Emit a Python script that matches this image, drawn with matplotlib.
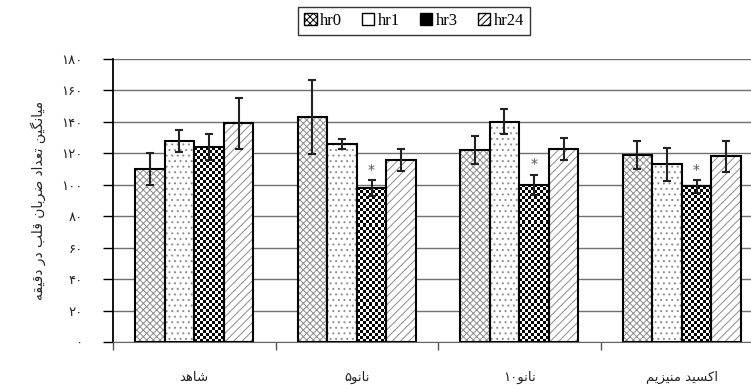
import numpy as np
import matplotlib
matplotlib.use('Agg')
from matplotlib import pyplot as plt
from matplotlib.patches import Patch
from matplotlib.transforms import ScaledTranslation

# Persian labels written in visual order with presentation forms
groups = ['\uFEAA\uFEEB\uFE8E\uFEB7',                       # shahed
          '\u06F5\uFEEE\uFEE7\uFE8E\uFEE7',                 # nano5
          '\u06F1\u06F0\uFEEE\uFEE7\uFE8E\uFEE7',           # nano10
          '\uFEE2\uFEF3\uFEB0\uFEF4\uFEE8\uFEE3 \uFEAA\uFEF4\uFEB4\uFB90\uFE8D']  # oxide
ylabel = ('\uFEEA\uFED8\uFEF4\uFED7\uFEA9 \uFEAD\uFEA9 \uFE90\uFEE0\uFED7 '
          '\uFEE5\uFE8E\uFE91\uFEAE\uFEBF \uFEA9\uFE8D\uFEAA\uFECC\uFE97 '
          '\uFEE6\uFEF4\uFB95\uFEE7\uFE8E\uFEF4\uFEE3')
series = ['hr0', 'hr1', 'hr3', 'hr24']
means = {
    'hr0':  [110, 143, 122, 119],
    'hr1':  [128, 126, 140, 113],
    'hr3':  [124, 98, 100, 99],
    'hr24': [139, 116, 123, 118],
}
errs = {
    'hr0':  [10, 23.5, 9, 9],
    'hr1':  [7, 3, 8, 10.5],
    'hr3':  [8.5, 5, 6.5, 4],
    'hr24': [16, 7, 7, 10],
}
star_series = 'hr3'
star_groups = [1, 2, 3]
yticks = [0, 20, 40, 60, 80, 100, 120, 140, 160, 180]
ytick_labels = ['\u06F0', '\u06F2\u06F0', '\u06F4\u06F0', '\u06F6\u06F0', '\u06F8\u06F0',
                '\u06F1\u06F0\u06F0', '\u06F1\u06F2\u06F0', '\u06F1\u06F4\u06F0',
                '\u06F1\u06F6\u06F0', '\u06F1\u06F8\u06F0']

hatches = {'hr0': 'xxxxx', 'hr1': '...', 'hr3': None, 'hr24': '////'}
hcolors = {'hr0': '#8c8c8c', 'hr1': '#8c8c8c', 'hr3': 'black', 'hr24': '#8c8c8c'}

plt.rcParams['hatch.linewidth'] = 0.7
fig = plt.figure(figsize=(7.51, 3.88), dpi=100)
ax = fig.add_axes([113/751, 1-342/388, 650/751, (342-59)/388])
ax.set_xlim(-0.5, 3.5)
ax.set_ylim(0, 180)

x = np.arange(len(groups))
w = 1/5.5
for i, s in enumerate(series):
    pos = x + (i - 1.5) * w
    bars = ax.bar(pos, means[s], w, color='white', edgecolor=hcolors[s],
                  hatch=hatches[s], linewidth=0, zorder=2)
    if s == 'hr3':
        # checkerboard fill drawn as an image inside each bar
        for b in bars:
            x0, h = b.get_x(), b.get_height()
            p = ax.transData.transform([(x0, 0), (x0 + w, h)])
            nc = max(1, int(round((p[1][0] - p[0][0]) / 3)))
            nr = max(1, int(round((p[1][1] - p[0][1]) / 3)))
            checker = np.indices((nr, nc)).sum(0) % 2
            ax.imshow(checker, extent=(x0, x0 + w, 0, h), cmap='gray', vmin=0, vmax=1,
                      interpolation='nearest', aspect='auto', origin='lower', zorder=2.5)
    ax.bar(pos, means[s], w, fill=False, edgecolor='black', linewidth=1.5, zorder=3)
    ax.errorbar(pos, means[s], yerr=errs[s], fmt='none', ecolor='#222222',
                elinewidth=1.5, capsize=3, capthick=1.5, zorder=4)
    if s == star_series:
        for g in star_groups:
            ax.text(pos[g], means[s][g] + errs[s][g] + 2, '*', ha='center', va='bottom',
                    fontsize=10, color='#555555', zorder=5)

ax.set_xlim(-0.5, 3.5)
ax.set_ylim(0, 180)

ax.set_yticks(yticks)
ax.set_yticklabels(ytick_labels, fontsize=9.5, color='#222222')
off = ScaledTranslation(0, 5/100, fig.dpi_scale_trans)
for lab in ax.get_yticklabels():
    lab.set_transform(lab.get_transform() + off)
ax.tick_params(axis='y', direction='out', length=7, width=1, pad=15)
ax.yaxis.grid(True, color='#707070', linewidth=1)
ax.set_axisbelow(True)

ax.set_xticks([-0.5, 0.5, 1.5, 2.5, 3.5])
ax.set_xticklabels([])
ax.tick_params(axis='x', direction='out', length=6, width=1, color='#555555')
ax.set_xticks(x, minor=True)
ax.set_xticklabels(groups, minor=True, fontsize=9.5, color='#222222')
ax.tick_params(axis='x', which='minor', length=0, pad=21)

for side in ['top', 'right']:
    ax.spines[side].set_visible(False)
ax.spines['left'].set_linewidth(1.3)
ax.spines['bottom'].set_color('#666666')

ax.set_ylabel(ylabel, fontsize=10, color='#222222', labelpad=11)

handles = [Patch(facecolor='white', edgecolor='black', hatch='xxxxx'),
           Patch(facecolor='white', edgecolor='black', hatch=''),
           Patch(facecolor='black', edgecolor='black', hatch=''),
           Patch(facecolor='white', edgecolor='black', hatch='/////')]
leg = fig.legend(handles, series, loc='center', bbox_to_anchor=(414/751, 1-21/388),
                 ncol=4, frameon=True, fancybox=False, edgecolor='black',
                 handlelength=0.75, handleheight=0.75, handletextpad=0.2,
                 columnspacing=1.2, borderpad=0.35,
                 prop={'family': 'Liberation Serif', 'size': 12})
leg.get_frame().set_linewidth(1)

fig.savefig('out.png', dpi=100)
